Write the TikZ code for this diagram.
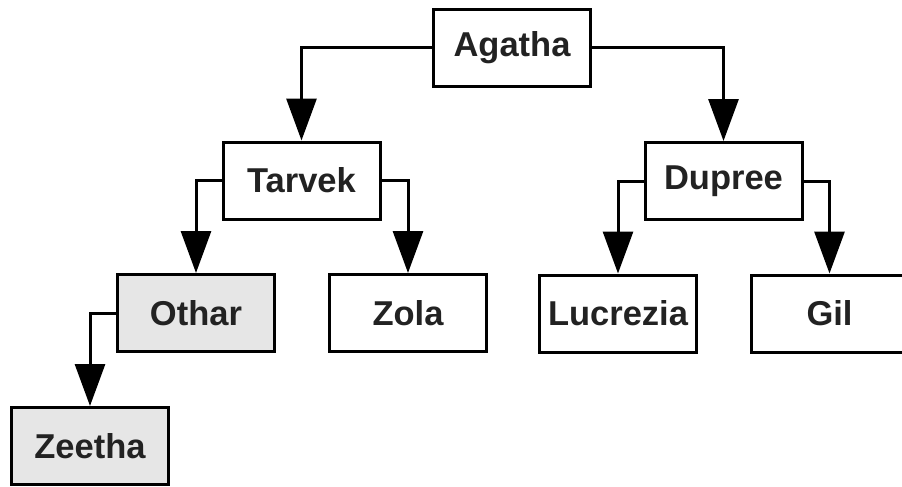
\documentclass[tikz,border=0pt]{standalone}
\usepackage{fontspec}
\setmainfont{Liberation Sans}
\usetikzlibrary{arrows.meta}
\definecolor{txt}{HTML}{222222}
\definecolor{shade}{HTML}{E6E6E6}
\begin{document}
\begin{tikzpicture}[x=1pt,y=-1pt,
  person/.style={draw=black, line width=3pt, fill=white, minimum width=157pt, minimum height=77pt,
    inner sep=0pt, font=\fontsize{34.5}{40}\selectfont\bfseries, text=txt},
  shaded/.style={person, fill=shade},
  arr/.style={line width=3pt, -{Triangle[width=30pt,length=42pt]}}]
\useasboundingbox (0,0) rectangle (902,487);
\node[person] (A) at (512,48) {Agatha};
\node[person] (T) at (301.5,180.5) {Tarvek};
\node[person] (D) at (723.5,181) {Dupree};
\node[shaded] (O) at (196,313) {Othar};
\node[person] (Zo) at (408,313) {Zola};
\node[person] (L) at (618,313.5) {Lucrezia};
\node[person] (G) at (829.5,313.5) {Gil};
\node[shaded] (Ze) at (90,446) {Zeetha};
\draw[arr] (A.west) -| (T.north);
\draw[arr] (A.east) -| (D.north);
\draw[arr] (T.west) -| (O.north);
\draw[arr] (T.east) -| (Zo.north);
\draw[arr] (D.west) -| (L.north);
\draw[arr] (D.east) -| (G.north);
\draw[arr] (O.west) -| (Ze.north);
\end{tikzpicture}
\end{document}
